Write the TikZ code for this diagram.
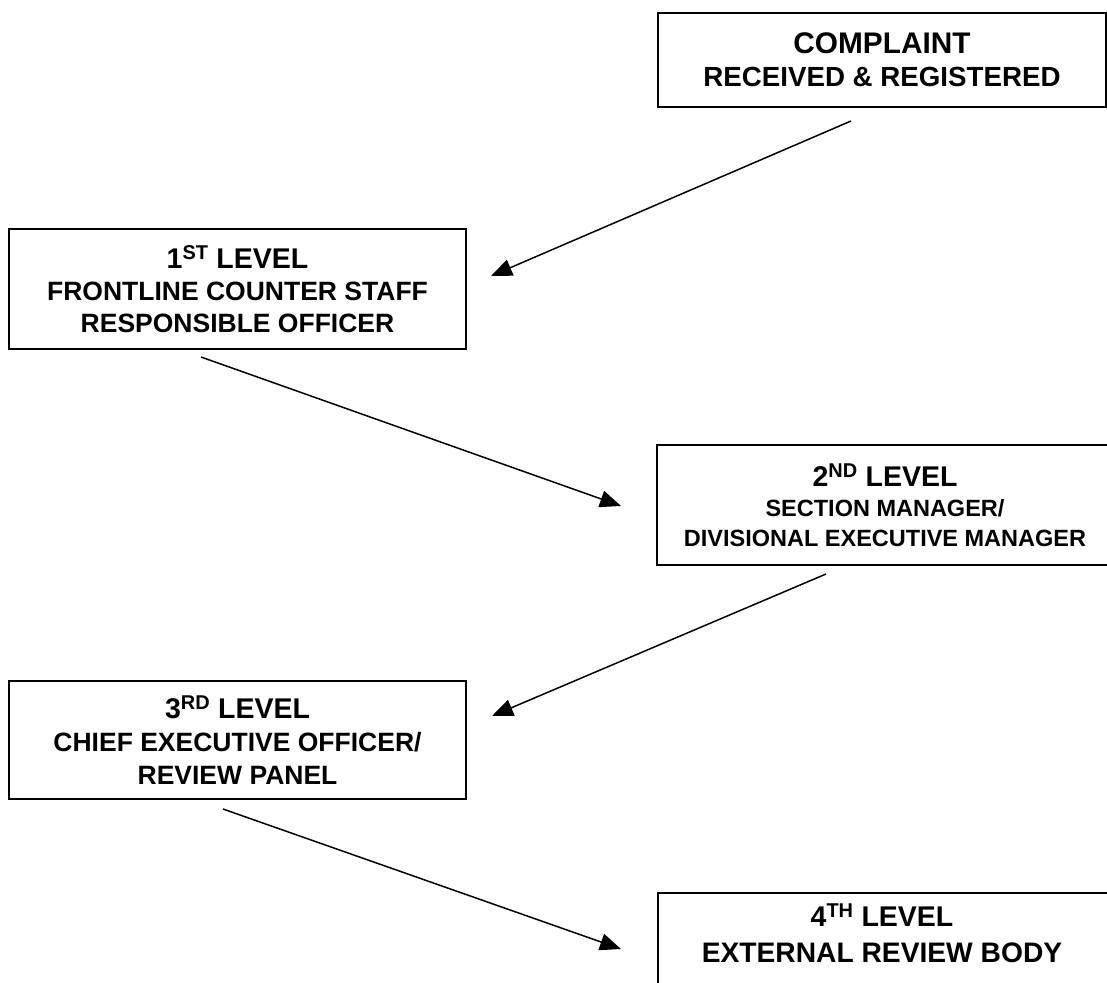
\documentclass[tikz,border=0pt]{standalone}
\usepackage{fontspec}
\setmainfont{Liberation Sans}
\usepackage{tikz}
\usetikzlibrary{arrows.meta}

\newcommand{\lvlhead}[1]{{\fontsize{28.5}{32}\selectfont #1}}

\tikzset{
  lvlbox/.style={draw, line width=2pt, align=center, inner sep=0pt, anchor=north west,
    minimum width=457pt, minimum height=120pt, font=\bfseries},
  flow/.style={-{Triangle[length=21pt,width=17pt]}, line width=1.5pt}
}

\begin{document}
\begin{tikzpicture}[x=1pt,y=-1pt]
\useasboundingbox (0,0) rectangle (1107,982);
\clip (0,0) rectangle (1107,982);

\node[lvlbox, minimum width=448pt, minimum height=94pt, font=\bfseries\fontsize{27.7}{33}\selectfont] (complaint) at (657,12)
  {{\fontsize{29.8}{33}\selectfont COMPLAINT}\\ RECEIVED \& REGISTERED};
\node[lvlbox, font=\bfseries\fontsize{26.5}{32}\selectfont] (lvlone) at (8,228)
  {\lvlhead{1\textsuperscript{ST} LEVEL}\\ FRONTLINE COUNTER STAFF\\ RESPONSIBLE OFFICER};
\node[lvlbox, minimum width=456pt, font=\bfseries\fontsize{23.5}{30}\selectfont] (lvltwo) at (656,444)
  {\lvlhead{2\textsuperscript{ND} LEVEL}\\ SECTION MANAGER/\\ DIVISIONAL EXECUTIVE MANAGER};
\node[lvlbox, minimum height=118pt, font=\bfseries\fontsize{26.5}{33}\selectfont] (lvlthree) at (8,680)
  {\lvlhead{3\textsuperscript{RD} LEVEL}\\ CHIEF EXECUTIVE OFFICER/\\ REVIEW PANEL};
\node[lvlbox, minimum width=456pt] (lvlfour) at (657,892) {};
\node[align=center, inner sep=0pt, font=\bfseries\fontsize{28.2}{36}\selectfont] (lvlfourtext) at (882,933.5)
  {\lvlhead{4\textsuperscript{TH} LEVEL}\\ EXTERNAL REVIEW BODY};

\draw[flow] ([xshift=-31pt,yshift=-13pt]complaint.south) -- ([xshift=24pt,yshift=13pt]lvlone.east);
\draw[flow] ([xshift=-36.5pt,yshift=-7pt]lvlone.south) -- ([xshift=-35pt,yshift=-1pt]lvltwo.west);
\draw[flow] ([xshift=-59pt,yshift=-8pt]lvltwo.south) -- ([xshift=25pt,yshift=24pt]lvlthree.east);
\draw[flow] ([xshift=-14.5pt,yshift=-9pt]lvlthree.south) -- ([xshift=-36pt,yshift=4pt]lvlfour.west);

\end{tikzpicture}
\end{document}
